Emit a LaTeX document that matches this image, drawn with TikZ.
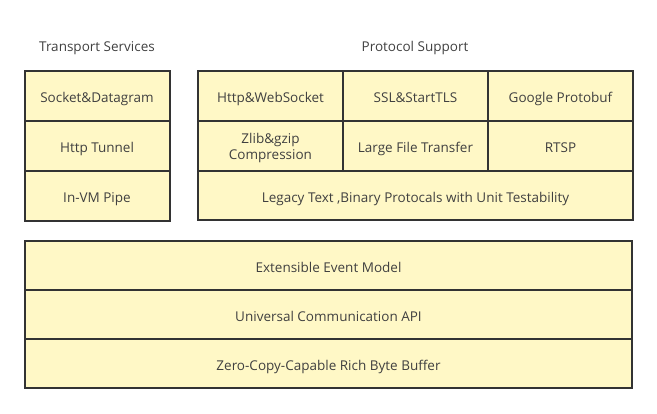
\documentclass[tikz,border=0pt]{standalone}
\usepackage{fontspec}
\setmainfont{Open Sans}
\usepackage{tikz}
\usepackage{xcolor}
\definecolor{cellfill}{HTML}{FFF8C6}
\definecolor{cellline}{HTML}{333333}
\definecolor{celltext}{HTML}{404040}

\begin{document}
\begin{tikzpicture}[x=1pt,y=1pt,line width=2pt,
  cell/.style={rectangle,draw=cellline,fill=cellfill,text=celltext,outer sep=0pt,inner sep=0pt,
    minimum width=145pt,minimum height=50pt,align=center,text height=16.6pt,text depth=3.2pt,
    font=\fontsize{13.5}{16}\selectfont},
  wide/.style={cell,minimum width=607pt,minimum height=49pt},
  title/.style={text=celltext,text height=16.6pt,text depth=3.2pt,font=\fontsize{13.5}{16}\selectfont}]
\useasboundingbox (0,0) rectangle (657,-414);
\node [cell,at={(97,-96)}] (sock) {Socket\&Datagram};
\node [cell,below=0pt,at=(sock.south)] (tunnel) {Http Tunnel};
\node [cell,below=0pt,at=(tunnel.south)] (pipe) {In-VM Pipe};
\node [title,at={(97,-44.5)}] (transport) {Transport Services};

\node [cell,at={(270.5,-96)}] (http) {Http\&WebSocket};
\node [cell,right=0pt,at=(http.east)] (ssl) {SSL\&StartTLS};
\node [cell,right=0pt,at=(ssl.east)] (proto) {Google Protobuf};
\node [cell,below=0pt,at=(http.south),text height=30pt] (zlib) {Zlib\&gzip\\Compression};
\node [cell,below=0pt,at=(ssl.south)] (file) {Large File Transfer};
\node [cell,below=0pt,at=(proto.south)] (rtsp) {RTSP};
\node [cell,minimum width=435pt,minimum height=49pt,below=0pt,at=(file.south)] (legacy) {Legacy Text ,Binary Protocals with Unit Testability};
\node [title,at={(415,-44.5)}] (protocol) {Protocol Support};

\node [wide,at={(328.5,-265.5)}] (event) {Extensible Event Model};
\node [wide,below=0pt,at=(event.south)] (api) {Universal Communication API};
\node [wide,below=0pt,at=(api.south)] (buffer) {Zero-Copy-Capable Rich Byte Buffer};
\end{tikzpicture}
\end{document}
